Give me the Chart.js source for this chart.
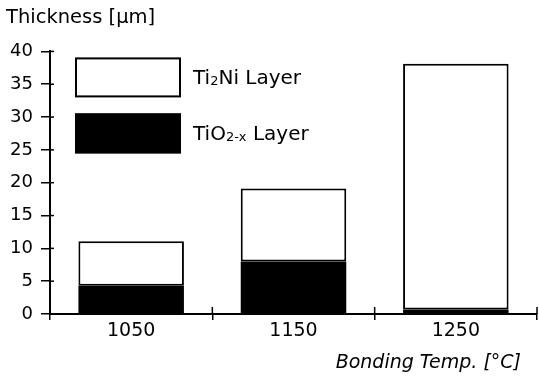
<!DOCTYPE html>
<html>
<head>
<meta charset="utf-8">
<script src="https://cdn.jsdelivr.net/npm/chart.js@4"></script>
<style>
  html, body { margin: 0; padding: 0; background: #fff; }
  #wrap { width: 539px; height: 382px; }
</style>
</head>
<body>
<div id="wrap"><canvas id="thickness-chart"></canvas></div>
<script>
// valeurs
const categories = ['1050', '1150', '1250'];
const tiO2Values = [4.3, 8.0, 0.7];
const ti2NiValues = [6.8, 11.1, 37.4];
const yMax = 40;
const yStep = 5;

// libellés de légende avec indices
const legendParts = {
    'Ti2Ni Layer': [['Ti', false], ['2', true], ['Ni Layer', false]],
    'TiO2-x Layer': [['TiO', false], ['2-x', true], [' Layer', false]]
};

const FONT = '"DejaVu Sans", sans-serif';

const decorPlugin = {
    id: 'decor',
    afterDraw(chart) {
        const ctx = chart.ctx;
        const area = chart.chartArea;
        const xs = chart.scales.x;
        const ys = chart.scales.y;
        ctx.save();

        // petits traits vers l'intérieur
        ctx.strokeStyle = '#000';
        ctx.lineWidth = 1.5;
        ys.ticks.forEach(function(t) {
            const py = ys.getPixelForValue(t.value);
            ctx.beginPath();
            ctx.moveTo(area.left, py);
            ctx.lineTo(area.left + 4, py);
            ctx.stroke();
        });
        for (let i = 1; i <= categories.length; i++) {
            const px = xs.getPixelForTick(i - 1) + (xs.getPixelForTick(1) - xs.getPixelForTick(0)) / 2;
            ctx.beginPath();
            ctx.moveTo(px, area.bottom);
            ctx.lineTo(px, area.bottom - 7);
            ctx.stroke();
        }

        // légende
        const datasets = chart.data.datasets.slice().reverse();
        const bw = 106, bh = 40, gap = 16;
        let top = area.top + 6;
        const left = area.left + 25;
        datasets.forEach(function(ds) {
            ctx.fillStyle = ds.backgroundColor;
            ctx.fillRect(left, top, bw, bh);
            ctx.lineWidth = 2;
            ctx.strokeStyle = '#000';
            ctx.strokeRect(left + 1, top + 1, bw - 2, bh - 2);

            let tx = left + bw + 12;
            const ty = top + bh / 2 + 7;
            ctx.fillStyle = '#000';
            ctx.textBaseline = 'alphabetic';
            ctx.textAlign = 'left';
            legendParts[ds.label].forEach(function(p) {
                ctx.font = (p[1] ? '13px ' : '20px ') + FONT;
                ctx.fillText(p[0], tx, ty + (p[1] ? 1 : 0));
                tx += ctx.measureText(p[0]).width;
            });
            top += bh + gap;
        });

        // titre de l'axe x
        ctx.font = 'italic 19px ' + FONT;
        ctx.textAlign = 'right';
        ctx.fillStyle = '#000';
        ctx.fillText('Bonding Temp. [°C]', xs.right - 16, xs.bottom - 14);
        ctx.restore();
    }
};

const chart = new Chart(document.getElementById('thickness-chart'), {
    type: 'bar',
    data: {
        labels: categories,
        datasets: [
            {
                label: 'TiO2-x Layer',
                data: tiO2Values,
                backgroundColor: '#000',
                borderWidth: 0
            },
            {
                label: 'Ti2Ni Layer',
                data: ti2NiValues,
                backgroundColor: '#fff',
                borderColor: '#000',
                borderWidth: 2,
                borderSkipped: false
            }
        ]
    },
    options: {
        responsive: true,
        maintainAspectRatio: false,
        animation: false,
        layout: {
            padding: { left: 6, right: 2, top: 6, bottom: 0 }
        },
        datasets: {
            bar: {
                categoryPercentage: 1,
                barPercentage: 0.65
            }
        },
        plugins: {
            legend: { display: false },
            tooltip: { enabled: false },
            title: {
                display: true,
                text: 'Thickness [µm]',
                align: 'start',
                color: '#000',
                font: { family: FONT, size: 19.5, weight: 'normal' },
                padding: { top: 0, bottom: 22 }
            }
        },
        scales: {
            x: {
                stacked: true,
                grid: {
                    drawOnChartArea: false,
                    color: '#000',
                    lineWidth: 1.5,
                    tickLength: 6
                },
                border: { color: '#000', width: 2 },
                ticks: {
                    color: '#000',
                    padding: 0,
                    font: { family: FONT, size: 19 }
                },
                afterFit: function(scale) { scale.height = 68; }
            },
            y: {
                stacked: true,
                min: 0,
                max: yMax,
                grid: {
                    drawOnChartArea: false,
                    color: '#000',
                    lineWidth: 1.5,
                    tickLength: 9
                },
                border: { color: '#000', width: 2 },
                ticks: {
                    stepSize: yStep,
                    color: '#000',
                    padding: 8,
                    font: { family: FONT, size: 18 }
                },
                afterFit: function(scale) { scale.width = 44; }
            }
        }
    },
    plugins: [decorPlugin]
});
</script>
</body>
</html>
